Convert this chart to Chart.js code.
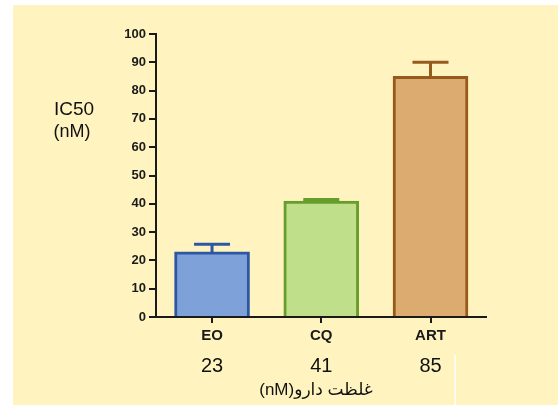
<!DOCTYPE html>
<html>
<head>
<meta charset="utf-8">
<script src="https://cdn.jsdelivr.net/npm/chart.js@4"></script>
<style>
    html, body { margin: 0; padding: 0; background: #ffffff; }
    #fondo {
        position: absolute; left: 13px; top: 5px;
        width: 545px; height: 400px;
        background: #fff4bf;
    }
    #raya {
        position: absolute; left: 454px; top: 355px;
        width: 2px; height: 50px;
        background: rgba(255, 255, 255, 0.7);
    }
    #caja { position: absolute; left: 0; top: 0; width: 558px; height: 415px; }
</style>
</head>
<body>
<div id="fondo"></div>
<div id="raya"></div>
<div id="caja"><canvas id="grafico"></canvas></div>
<script>
/* --------------- datos --------------- */
const etiquetas = ['EO', 'CQ', 'ART'];
const valores = [23, 41, 85];
const errores = [2.7, 0.5, 5];
const valoresTexto = ['23', '41', '85'];
const ticksY = [0, 10, 20, 30, 40, 50, 60, 70, 80, 90, 100];

const rellenos = ['#7ea1d9', '#bfdf8a', '#dcab70'];
const bordes = ['#2d57a3', '#679d2c', '#985a1c'];

const fuente = "'Liberation Sans', Arial, 'DejaVu Sans', sans-serif";

/* --------------- barras de error y textos extra --------------- */
const extras = {
    id: 'extras',
    afterDatasetsDraw(chart) {
        const ctx = chart.ctx;
        const x = chart.scales.x;
        const y = chart.scales.y;
        ctx.save();
        valores.forEach((v, i) => {
            const px = x.getPixelForValue(i);
            const arriba = y.getPixelForValue(v + errores[i]);
            const base = y.getPixelForValue(v);
            ctx.strokeStyle = bordes[i];
            ctx.lineWidth = 3;
            ctx.beginPath();
            ctx.moveTo(px, base);
            ctx.lineTo(px, arriba);
            ctx.moveTo(px - 18, arriba);
            ctx.lineTo(px + 18, arriba);
            ctx.stroke();
        });
        ctx.restore();
    },
    afterDraw(chart) {
        const ctx = chart.ctx;
        const x = chart.scales.x;
        ctx.save();
        ctx.fillStyle = '#111';
        ctx.textAlign = 'center';
        ctx.textBaseline = 'middle';
        ctx.font = '20px ' + fuente;
        valoresTexto.forEach((t, i) => {
            ctx.fillText(t, x.getPixelForValue(i), 366);
        });
        ctx.font = '19px ' + fuente;
        ctx.fillText('IC50', 74, 110);
        ctx.font = '18px ' + fuente;
        ctx.fillText('(nM)', 72, 132);
        ctx.font = '17px ' + fuente;
        ctx.direction = 'rtl';
        ctx.fillText('غلظت دارو(nM)', 316, 390);
        ctx.restore();
    }
};

document.addEventListener('DOMContentLoaded', () => {
    const selector = document.getElementById('grafico');

    new Chart(selector, {
        type: 'bar',
        data: {
            datasets: [{
                data: valores.map((v, i) => ({ x: i, y: v })),
                backgroundColor: rellenos,
                borderColor: bordes,
                borderWidth: 3,
                borderSkipped: 'start',
                barThickness: 75
            }]
        },
        options: {
            responsive: true,
            maintainAspectRatio: false,
            animation: false,
            events: [],
            layout: { padding: { left: 0, right: 72, top: 34, bottom: 0 } },
            plugins: {
                legend: { display: false },
                tooltip: { enabled: false }
            },
            scales: {
                x: {
                    type: 'linear',
                    offset: false,
                    min: -0.513,
                    max: 2.508,
                    afterBuildTicks: (scale) => {
                        scale.ticks = etiquetas.map((_, i) => ({ value: i }));
                    },
                    afterFit: (scale) => { scale.height = 98; },
                    border: { display: true, color: '#1a1a1a', width: 2 },
                    grid: {
                        offset: false,
                        drawOnChartArea: false,
                        drawTicks: true,
                        tickLength: 6,
                        color: '#1a1a1a',
                        lineWidth: 2
                    },
                    ticks: {
                        autoSkip: false,
                        maxRotation: 0,
                        padding: 4,
                        color: '#1a1a1a',
                        font: { family: fuente, size: 15, weight: 'bold' },
                        callback: (v) => etiquetas[v]
                    }
                },
                y: {
                    min: 0,
                    max: 100,
                    afterBuildTicks: (scale) => {
                        scale.ticks = ticksY.map((v) => ({ value: v }));
                    },
                    afterFit: (scale) => { scale.width = 156; },
                    border: { display: true, color: '#1a1a1a', width: 2 },
                    grid: {
                        drawOnChartArea: false,
                        drawTicks: true,
                        tickLength: 7,
                        color: '#1a1a1a',
                        lineWidth: 2
                    },
                    ticks: {
                        padding: 3,
                        color: '#1a1a1a',
                        font: { family: fuente, size: 13, weight: 'bold' }
                    }
                }
            }
        },
        plugins: [extras]
    });
});
</script>
</body>
</html>
